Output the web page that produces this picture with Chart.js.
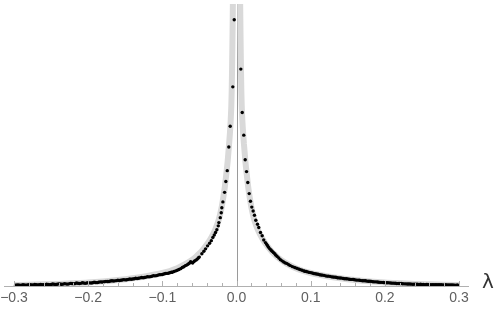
<!DOCTYPE html>
<html>
<head>
<meta charset="utf-8">
<script src="https://cdn.jsdelivr.net/npm/chart.js@4.4.1/dist/chart.umd.min.js"></script>
<style>
  html, body { margin: 0; padding: 0; background: #fff; }
  #wrap { width: 498px; height: 310px; }
</style>
</head>
<body>
<div id="wrap"><canvas id="chart" width="498" height="310"></canvas></div>
<script>
// theory curve (gray band)
const curveLambda = [
    -0.300, -0.280, -0.260, -0.240, -0.220, -0.200, -0.180, -0.160, -0.140, -0.120, -0.110,
    -0.100, -0.090, -0.080, -0.070, -0.065, -0.060, -0.055, -0.050, -0.045, -0.040, -0.036,
    -0.033, -0.030, -0.028, -0.026, -0.024, -0.022, -0.020, -0.018, -0.016, -0.014, -0.012,
    -0.010, -0.009, -0.008, -0.007, -0.0065, -0.006, -0.0055, -0.005, -0.0045, -0.004, -0.003,
    0.003, 0.004, 0.0045, 0.005, 0.0055, 0.006, 0.0065, 0.007, 0.008, 0.009, 0.010,
    0.012, 0.014, 0.016, 0.018, 0.020, 0.022, 0.024, 0.026, 0.028, 0.030, 0.033,
    0.036, 0.040, 0.045, 0.050, 0.055, 0.060, 0.065, 0.070, 0.080, 0.090, 0.100,
    0.110, 0.120, 0.140, 0.160, 0.180, 0.200, 0.220, 0.240, 0.260, 0.280, 0.300
];
const curveDensity = [
    0.10, 0.13, 0.165, 0.21, 0.28, 0.36, 0.47, 0.61, 0.79, 1.02, 1.16,
    1.32, 1.52, 1.80, 2.18, 2.40, 2.65, 2.95, 3.30, 3.72, 4.20, 4.65,
    5.05, 5.50, 5.85, 6.25, 6.70, 7.30, 8.00, 8.90, 9.90, 11.2, 12.6,
    14.4, 15.4, 16.6, 18.3, 19.8, 22.0, 24.8, 28.0, 31.5, 36.0, 50.0,
    50.0, 36.0, 31.5, 28.0, 24.8, 22.0, 19.8, 18.3, 16.6, 15.4, 14.4,
    12.6, 11.2, 9.90, 8.90, 8.00, 7.30, 6.70, 6.25, 5.85, 5.50, 5.05,
    4.65, 4.20, 3.72, 3.30, 2.95, 2.65, 2.40, 2.18, 1.80, 1.52, 1.32,
    1.16, 1.02, 0.79, 0.61, 0.47, 0.36, 0.28, 0.21, 0.165, 0.13, 0.10
];

// sampled points (black dots), left tail
const leftTailLambda = [
    -0.298, -0.296, -0.294, -0.292, -0.290, -0.288, -0.286, -0.284, -0.282, -0.280,
    -0.278, -0.276, -0.274, -0.272, -0.270, -0.268, -0.266, -0.264, -0.262, -0.260,
    -0.258, -0.256, -0.254, -0.252, -0.250, -0.248, -0.246, -0.244, -0.242, -0.240,
    -0.238, -0.236, -0.234, -0.232, -0.230, -0.228, -0.226, -0.224, -0.222, -0.220,
    -0.218, -0.216, -0.214, -0.212, -0.210, -0.208, -0.206, -0.204, -0.202, -0.200,
    -0.198, -0.196, -0.194, -0.192, -0.190, -0.188, -0.186, -0.184, -0.182, -0.180,
    -0.178, -0.176, -0.174, -0.172, -0.170, -0.168, -0.166, -0.164, -0.162, -0.160,
    -0.158, -0.156, -0.154, -0.152, -0.150, -0.148, -0.146, -0.144, -0.142, -0.140,
    -0.138, -0.136, -0.134, -0.132, -0.130, -0.128, -0.126, -0.124, -0.122, -0.120,
    -0.118, -0.116, -0.114, -0.112, -0.110, -0.108, -0.106, -0.104, -0.102, -0.100,
    -0.098, -0.096, -0.094, -0.092, -0.090, -0.088
];
const leftTailDensity = [
    0.09, 0.11, 0.10, 0.07, 0.09, 0.13, 0.11, 0.09, 0.10, 0.14,
    0.12, 0.10, 0.11, 0.15, 0.13, 0.11, 0.12, 0.16, 0.14, 0.12,
    0.14, 0.18, 0.16, 0.13, 0.15, 0.20, 0.18, 0.15, 0.17, 0.22,
    0.20, 0.17, 0.19, 0.24, 0.22, 0.19, 0.22, 0.27, 0.25, 0.22,
    0.24, 0.30, 0.28, 0.25, 0.27, 0.33, 0.31, 0.27, 0.30, 0.34,
    0.32, 0.30, 0.33, 0.38, 0.36, 0.34, 0.38, 0.42, 0.40, 0.40,
    0.44, 0.47, 0.45, 0.46, 0.50, 0.53, 0.51, 0.52, 0.55, 0.59,
    0.56, 0.58, 0.61, 0.65, 0.62, 0.64, 0.67, 0.71, 0.69, 0.71,
    0.74, 0.78, 0.76, 0.78, 0.82, 0.86, 0.84, 0.86, 0.90, 0.95,
    0.93, 0.95, 0.99, 1.05, 1.03, 1.05, 1.10, 1.15, 1.15, 1.17,
    1.21, 1.27, 1.28, 1.30, 1.35, 1.39
];

// left of the peak
const leftCoreLambda = [
    -0.0865, -0.0843, -0.0821, -0.0798, -0.0776, -0.0753, -0.0731, -0.0710, -0.0690, -0.0672,
    -0.0655, -0.0637, -0.0619, -0.0605, -0.0592, -0.0578, -0.0565, -0.0547, -0.0529, -0.0515,
    -0.0502, -0.0467, -0.0440, -0.0417, -0.0390, -0.0363, -0.0340, -0.0319, -0.0300, -0.0283,
    -0.0265, -0.0246, -0.0238, -0.0219, -0.0206, -0.0198, -0.0184, -0.0161, -0.0144, -0.0125,
    -0.0104, -0.0085, -0.0067, -0.0050, -0.0031, -0.0012
];
const leftCoreDensity = [
    1.40, 1.47, 1.53, 1.59, 1.67, 1.76, 1.87, 1.95, 2.07, 2.12,
    2.20, 2.31, 2.47, 2.40, 2.33, 2.45, 2.53, 2.62, 2.73, 2.84,
    2.93, 3.27, 3.53, 3.77, 4.07, 4.33, 4.60, 4.93, 5.17, 5.43,
    5.70, 6.10, 6.43, 6.93, 7.43, 7.93, 8.53, 9.50, 10.6, 11.7,
    14.1, 16.2, 31.0, 20.2, 27.0, 45.0
];

// right of the peak
const rightCoreLambda = [
    0.0007, 0.0026, 0.0045, 0.0058, 0.0077, 0.0098, 0.0117, 0.0135, 0.0152, 0.0171,
    0.0188, 0.0206, 0.0224, 0.0242, 0.0260, 0.0283, 0.0300, 0.0323, 0.0346, 0.0367,
    0.0390, 0.0404, 0.0417, 0.0432, 0.0448, 0.0464, 0.0480, 0.0497, 0.0515, 0.0531,
    0.0548, 0.0570, 0.0592, 0.0614, 0.0636, 0.0659, 0.0682, 0.0704, 0.0726, 0.0755,
    0.0784, 0.0811, 0.0838, 0.0861, 0.0884, 0.0908
];
const rightCoreDensity = [
    48.0, 38.0, 30.0, 22.0, 17.6, 15.3, 12.8, 11.6, 10.5, 9.37,
    8.60, 8.00, 7.60, 7.17, 6.67, 6.27, 5.93, 5.43, 5.10, 4.67,
    4.40, 4.25, 4.10, 3.93, 3.77, 3.65, 3.53, 3.40, 3.27, 3.13,
    3.00, 2.84, 2.67, 2.55, 2.43, 2.34, 2.27, 2.16, 2.07, 1.96,
    1.87, 1.80, 1.73, 1.66, 1.60, 1.53
];

// right tail
const rightTailLambda = [
    0.092, 0.094, 0.096, 0.098, 0.100, 0.102, 0.104, 0.106, 0.108, 0.110,
    0.112, 0.114, 0.116, 0.118, 0.120, 0.122, 0.124, 0.126, 0.128, 0.130,
    0.132, 0.134, 0.136, 0.138, 0.140, 0.142, 0.144, 0.146, 0.148, 0.150,
    0.152, 0.154, 0.156, 0.158, 0.160, 0.162, 0.164, 0.166, 0.168, 0.170,
    0.172, 0.174, 0.176, 0.178, 0.180, 0.182, 0.184, 0.186, 0.188, 0.190,
    0.192, 0.194, 0.196, 0.198, 0.200, 0.202, 0.204, 0.206, 0.208, 0.210,
    0.212, 0.214, 0.216, 0.218, 0.220, 0.222, 0.224, 0.226, 0.228, 0.230,
    0.232, 0.234, 0.236, 0.238, 0.240, 0.242, 0.244, 0.246, 0.248, 0.250,
    0.252, 0.254, 0.256, 0.258, 0.260, 0.262, 0.264, 0.266, 0.268, 0.270,
    0.272, 0.274, 0.276, 0.278, 0.280, 0.282, 0.284, 0.286, 0.288, 0.290,
    0.292, 0.294, 0.296, 0.298
];
const rightTailDensity = [
    1.50, 1.47, 1.43, 1.38, 1.36, 1.32, 1.27, 1.24, 1.22, 1.19,
    1.14, 1.11, 1.10, 1.08, 1.03, 1.00, 1.00, 0.98, 0.93, 0.91,
    0.90, 0.88, 0.84, 0.82, 0.81, 0.80, 0.76, 0.74, 0.73, 0.72,
    0.68, 0.67, 0.67, 0.66, 0.62, 0.60, 0.60, 0.59, 0.55, 0.54,
    0.54, 0.53, 0.49, 0.48, 0.48, 0.47, 0.43, 0.42, 0.42, 0.41,
    0.38, 0.37, 0.37, 0.36, 0.34, 0.33, 0.33, 0.32, 0.30, 0.29,
    0.29, 0.28, 0.26, 0.25, 0.26, 0.25, 0.23, 0.22, 0.22, 0.21,
    0.21, 0.20, 0.19, 0.18, 0.19, 0.18, 0.17, 0.16, 0.17, 0.16,
    0.15, 0.14, 0.15, 0.15, 0.14, 0.13, 0.13, 0.14, 0.13, 0.12,
    0.12, 0.13, 0.12, 0.11, 0.11, 0.12, 0.11, 0.10, 0.10, 0.11,
    0.10, 0.09, 0.09, 0.10
];

const majorTicks = [-0.3, -0.2, -0.1, 0.0, 0.1, 0.2, 0.3];
const tickLabels = ['\u22120.3', '\u22120.2', '\u22120.1', '0.0', '0.1', '0.2', '0.3'];
const minorTicks = [
    -0.28, -0.26, -0.24, -0.22, -0.18, -0.16, -0.14, -0.12, -0.08, -0.06, -0.04, -0.02,
    0.02, 0.04, 0.06, 0.08, 0.12, 0.14, 0.16, 0.18, 0.22, 0.24, 0.26, 0.28
];
const axisLabel = '\u03bb';

function toPoints(xs, ys) {
    return xs.map((x, i) => ({ x: x, y: ys[i] }));
}

const dotPoints = [].concat(
    toPoints(leftTailLambda, leftTailDensity),
    toPoints(leftCoreLambda, leftCoreDensity),
    toPoints(rightCoreLambda, rightCoreDensity),
    toPoints(rightTailLambda, rightTailDensity)
);

// ticks point up into the plot, plus the line at lambda = 0 and the axis name
const axisDecor = {
    id: 'axisDecor',
    beforeDatasetsDraw(chart) {
        const ctx = chart.ctx;
        const xs = chart.scales.x;
        const area = chart.chartArea;
        ctx.save();
        const x0 = Math.round(xs.getPixelForValue(0)) + 0.5;
        ctx.strokeStyle = '#9a9a9a';
        ctx.lineWidth = 1;
        ctx.beginPath();
        ctx.moveTo(x0, area.top);
        ctx.lineTo(x0, area.bottom);
        ctx.stroke();
        ctx.restore();
    },
    afterDraw(chart) {
        const ctx = chart.ctx;
        const xs = chart.scales.x;
        const yAxis = chart.chartArea.bottom;
        ctx.save();
        ctx.strokeStyle = '#b0b0b0';
        ctx.lineWidth = 1;
        ctx.beginPath();
        majorTicks.forEach(v => {
            const px = Math.round(xs.getPixelForValue(v)) + 0.5;
            ctx.moveTo(px, yAxis);
            ctx.lineTo(px, yAxis - 5);
        });
        minorTicks.forEach(v => {
            const px = Math.round(xs.getPixelForValue(v)) + 0.5;
            ctx.moveTo(px, yAxis);
            ctx.lineTo(px, yAxis - 3);
        });
        ctx.stroke();
        ctx.fillStyle = '#333';
        ctx.font = '20px "DejaVu Sans"';
        ctx.textAlign = 'center';
        ctx.textBaseline = 'middle';
        ctx.fillText(axisLabel, 488, yAxis - 3);
        ctx.restore();
    }
};

const ctx = document.getElementById('chart').getContext('2d');
new Chart(ctx, {
    type: 'scatter',
    data: {
        datasets: [
            {
                label: 'samples',
                data: dotPoints,
                backgroundColor: '#000',
                borderWidth: 0,
                pointRadius: 1.7,
                showLine: false,
                order: 0
            },
            {
                type: 'line',
                label: 'curve',
                data: toPoints(curveLambda, curveDensity),
                borderColor: '#d9d9d9',
                borderWidth: 6,
                pointRadius: 0,
                fill: false,
                cubicInterpolationMode: 'monotone',
                order: 1
            }
        ]
    },
    options: {
        responsive: false,
        animation: false,
        devicePixelRatio: 1,
        layout: { padding: { left: 3, right: 30, top: 0, bottom: 0 } },
        plugins: { legend: { display: false }, tooltip: { enabled: false } },
        scales: {
            x: {
                type: 'linear',
                min: -0.3135,
                max: 0.3121,
                afterBuildTicks: scale => {
                    scale.ticks = majorTicks.map(v => ({ value: v }));
                },
                afterFit: scale => {
                    scale.height = 24;
                    scale.paddingLeft = 0;
                    scale.paddingRight = 0;
                },
                ticks: {
                    autoSkip: false,
                    maxRotation: 0,
                    padding: 4,
                    color: '#606060',
                    font: { family: 'Liberation Sans', size: 14 },
                    callback: (value, index) => tickLabels[index]
                },
                grid: { display: false, drawTicks: false },
                border: { display: true, color: '#b0b0b0', width: 1 }
            },
            y: {
                display: false,
                min: 0,
                max: 28.6
            }
        }
    },
    plugins: [axisDecor]
});
</script>
</body>
</html>
